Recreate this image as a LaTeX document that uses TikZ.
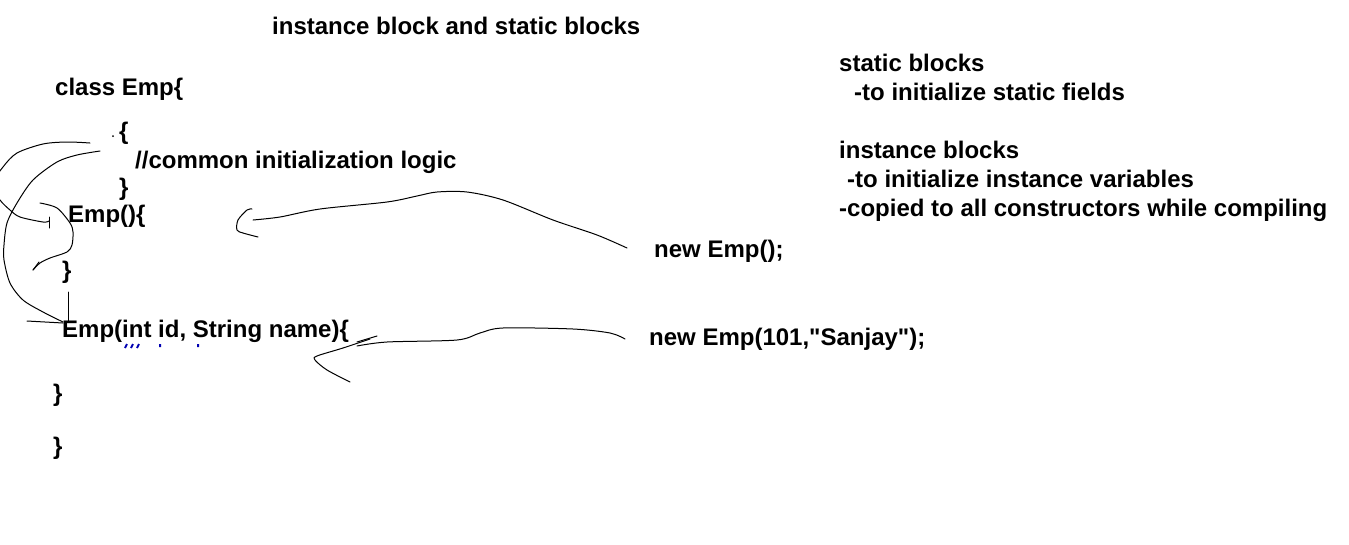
\documentclass[tikz,border=0pt]{standalone}
\usepackage{fontspec}
\setmainfont{Liberation Sans}[Ligatures=TeXOff]
\begin{document}
\begin{tikzpicture}[x=1pt, y=-1pt,
  every node/.style={anchor=base west, inner sep=0pt, font=\fontsize{24}{29}\selectfont\bfseries},
  pen/.style={line width=1pt, line join=round, line cap=round}]
\useasboundingbox (0,0) rectangle (1349,544);
\node (T) at (272,34) {instance block and static blocks};
\node (C1) at (55,95) {class Emp\{};
\node (B1) at (119,139) {\{};
\node (B2) at (135,168) {//common initialization logic};
\node (B3) at (119,195) {\}};
\node (K1) at (68,222) {Emp()\{};
\node (K2) at (62,278) {\}};
\node (K3) at (62,337) {Emp(int id, String name)\{};
\node (K4) at (53,401) {\}};
\node (C2) at (53,454) {\}};
\node (N1) at (654,257) {new Emp();};
\node (N2) at (649,345) {new Emp(101,"Sanjay");};
\node (S1) at (839,71) {static blocks};
\node (S2) at (854,100) {-to initialize static fields};
\node (I1) at (839,158) {instance blocks};
\node (I2) at (847,187) {-to initialize instance variables};
\node (I3) at (839,216) {-copied to all constructors while compiling};

% stray dot and the cut off blue comment
\fill (113,136) circle (1);
\draw[line width=2pt, blue!70!black] (125,348) -- (127,344) (131,348) -- (133,344) (137,348) -- (139,344)
  (160,344) -- (160,347) (198,344) -- (198,347);

% instance block -> Emp()
\draw[pen] plot[smooth] coordinates {(90,143) (67,142) (43,144) (17,153) (3,167) (-8,185) (0,200) (10,210) (20,217) (43,222) (49,221)};
\draw[pen] (49,217) -- (49,228);
% instance block -> Emp(int id, String name)
\draw[pen] plot[smooth] coordinates {(100,151) (77,155) (57,162) (33,180) (17,203) (7,223) (4,245) (4,260) (10,283) (23,300) (43,312) (63,322)};
\draw[pen] (27,321) -- (63,323);
\draw[pen] (68,292) -- (68,322);
% Emp(){ -> }
\draw[pen] plot[smooth] coordinates {(40,203) (57,208) (70,223) (73,232) (72,245) (67,252) (50,258) (40,263) (33,270)};
\draw[pen] (33,270) -- (39,262);

% new Emp(); -> Emp(){
\draw[pen] plot[smooth] coordinates {(627,248) (597,235) (553,220) (503,200) (467,192) (437,192) (417,196) (387,202) (320,209) (280,217) (253,220)};
\draw[pen] plot[smooth] coordinates {(252,209) (247,210) (238,220) (237,230) (243,233) (258,237)};
% new Emp(101,"Sanjay"); -> Emp(int id, String name){
\draw[pen] plot[smooth] coordinates {(625,339) (610,333) (573,329) (503,328) (480,333) (457,340) (387,342) (357,346)};
\draw[pen] (377,336) -- (357,342);
\draw[pen] plot[smooth] coordinates {(370,339) (343,348) (317,356) (315,360) (327,370) (350,382)};
\end{tikzpicture}
\end{document}
